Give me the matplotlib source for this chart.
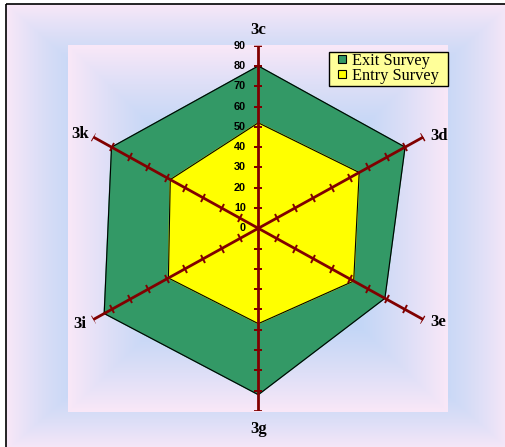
import numpy as np
import matplotlib
matplotlib.use("Agg")
import matplotlib.pyplot as plt
from matplotlib.markers import MarkerStyle
from matplotlib.transforms import Affine2D
from matplotlib.patches import Rectangle
from matplotlib.lines import Line2D

# Survey data per item
categories = ["3c", "3d", "3e", "3g", "3i", "3k"]
exit_survey = [80, 80, 69, 82, 84, 80]
entry_survey = [52, 55, 52, 47, 49, 48]
r_ticks = [0, 10, 20, 30, 40, 50, 60, 70, 80, 90]
series_names = ["Exit Survey", "Entry Survey"]

W, H, DPI = 506, 447, 100
fig = plt.figure(figsize=(W / DPI, H / DPI), dpi=DPI, facecolor="white")

# ---- background panels (rectangular centre-out gradients), in pixel space
bg = fig.add_axes([0, 0, 1, 1], zorder=-5)
bg.set_xlim(0, W)
bg.set_ylim(H, 0)
bg.axis("off")

blue = np.array([166, 205, 245]) / 255
pink = np.array([250, 232, 248]) / 255


def rect_gradient(x0, y0, x1, y1, power):
    nx, ny = int(x1 - x0), int(y1 - y0)
    xs = (np.arange(nx) + 0.5) / nx * 2 - 1
    ys = (np.arange(ny) + 0.5) / ny * 2 - 1
    t = np.maximum(np.abs(xs)[None, :], np.abs(ys)[:, None])
    f = (t ** power)[..., None]
    img = blue * (1 - f) + pink * f
    bg.imshow(img, extent=(x0, x1, y1, y0), aspect="auto",
              interpolation="bilinear", zorder=0)


rect_gradient(6, 4, 511, 451, 3.0)
bg.add_patch(Rectangle((6, 4), 505, 447, fill=False, edgecolor="black",
                       linewidth=1.2, zorder=2))
rect_gradient(68, 45, 448, 412, 1.7)

# legend box
bg.add_patch(Rectangle((329, 51.7), 119, 34, facecolor="#FFFF99",
                       edgecolor="black", linewidth=1.0, zorder=3))

# ---- radar chart (plot box slightly wider than tall)
cx, cy, rad, xstretch = 258.3, 228.3, 182.6, 1.044
ax = fig.add_axes([(cx - rad * xstretch) / W, (H - cy - rad) / H,
                   2 * rad * xstretch / W, 2 * rad / H], projection="polar")
ax.set_aspect("auto")
ax.set_theta_zero_location("N")
ax.set_theta_direction(-1)
ax.set_ylim(0, 90)
ax.patch.set_alpha(0)
ax.spines["polar"].set_visible(False)
ax.grid(False)
ax.set_xticks([])
ax.set_yticks([])

n = len(categories)
theta = np.deg2rad(np.arange(n) * 360 / n)
th_closed = np.append(theta, theta[0])

green = "#339966"
yellow = "#FFFF00"
exit_closed = np.append(exit_survey, exit_survey[0])
entry_closed = np.append(entry_survey, entry_survey[0])
ax.fill(th_closed, exit_closed, color=green, zorder=2)
ax.plot(th_closed, exit_closed, color="black", linewidth=0.8, zorder=3)
ax.fill(th_closed, entry_closed, color=yellow, zorder=4)
ax.plot(th_closed, entry_closed, color="black", linewidth=0.8, zorder=5)

# spokes with perpendicular tick marks
axis_red = "#800000"
for th in theta:
    ax.plot([th, th], [0, r_ticks[-1]], color=axis_red, linewidth=2.0,
            solid_capstyle="butt", zorder=6)
    phi = np.rad2deg(np.arctan2(np.cos(th), np.sin(th) * xstretch))
    mk = MarkerStyle("_", transform=Affine2D().rotate_deg(phi - 90))
    ax.plot(np.full(len(r_ticks) - 1, th), r_ticks[1:], linestyle="none",
            marker=mk, markersize=5.8, markeredgewidth=1.4,
            color=axis_red, zorder=7)

# value labels along the first spoke
for v in r_ticks:
    ax.annotate(str(v), xy=(0, v), xytext=(-9, 0), textcoords="offset points",
                ha="right", va="center", fontsize=7.8, fontweight="bold",
                family="Liberation Sans", color="black",
                annotation_clip=False, zorder=8)

# category labels outside the spoke ends
offsets = [(0, 11.3), (11, 0.7), (11, -2), (0, -13.2), (-9.5, -3), (-9.5, 2)]
for th, lab, off in zip(theta, categories, offsets):
    ax.annotate(lab, xy=(th, r_ticks[-1]), xytext=off, textcoords="offset points",
                ha="center", va="center", fontsize=12, fontweight="bold",
                family="Liberation Serif", color="black",
                annotation_clip=False, zorder=8)

handles = [Line2D([], [], linestyle="none", marker="s", markersize=5.4,
                  markerfacecolor=c, markeredgecolor="black",
                  markeredgewidth=0.8)
           for c in (green, yellow)]
leg = fig.legend(handles, series_names,
                 loc="center left", bbox_to_anchor=(335.5 / W, 1 - 68.3 / H),
                 prop={"family": "Liberation Serif", "size": 11.8},
                 frameon=False, handlelength=0.8, handletextpad=0.19,
                 borderpad=0, labelspacing=-0.03, borderaxespad=0)

fig.savefig("out.png", dpi=DPI, facecolor="white")
